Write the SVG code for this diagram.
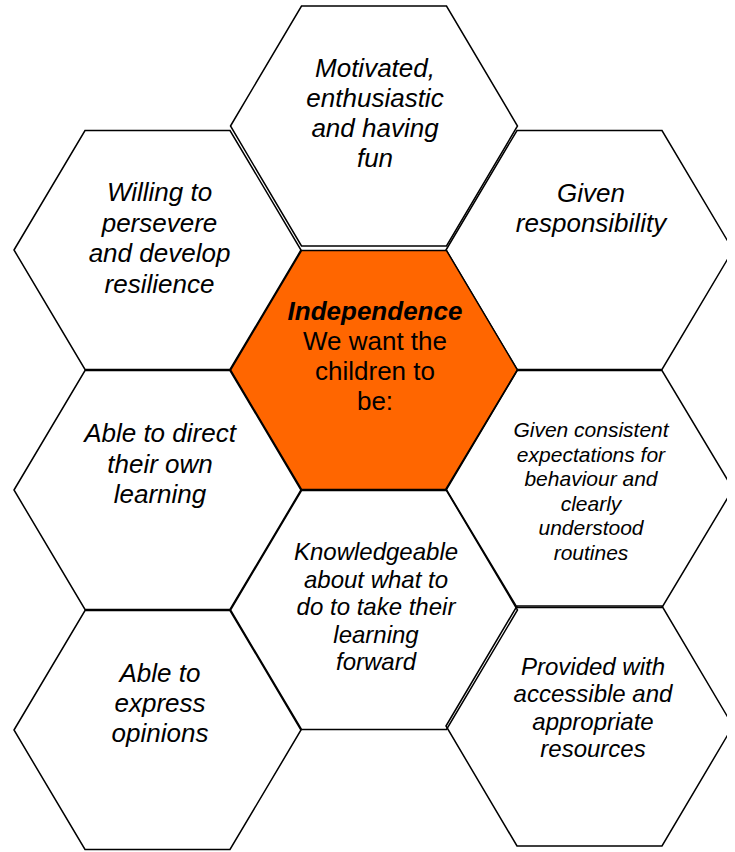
<svg xmlns="http://www.w3.org/2000/svg" width="735" height="852" viewBox="0 0 735 852">
<style>
.hex{fill:none;stroke:#000;stroke-width:1.5;stroke-linejoin:miter}
.core{fill:#FF6600;stroke:#000;stroke-width:1.5}
.t{font-family:"Liberation Sans",Arial,sans-serif;font-style:italic;font-size:26px;fill:#000;text-anchor:middle}
.s24{font-size:24px}
.s21{font-size:21px}
.c{font-family:"Liberation Sans",Arial,sans-serif;font-size:26px;fill:#000;text-anchor:middle}
.b{font-weight:bold;font-style:italic}
</style>
<defs><clipPath id="clip"><rect x="0" y="0" width="727" height="852"/></clipPath></defs>
<rect width="735" height="852" fill="#fff"/>
<g clip-path="url(#clip)">
<g id="motivated">
<polygon class="hex" points="230.5,126 301.5,6 446.5,6 517.5,126 446.5,246 301.5,246"/>
<text class="t" x="375" y="77">Motivated,</text>
<text class="t" x="375" y="107">enthusiastic</text>
<text class="t" x="375" y="137">and having</text>
<text class="t" x="375" y="167">fun</text>
</g>
<g id="willing">
<polygon class="hex" points="14,250 85,130.5 230,130.5 301,250 230,369.5 85,369.5"/>
<text class="t" x="159.5" y="201">Willing to</text>
<text class="t" x="159.5" y="231.5">persevere</text>
<text class="t" x="159.5" y="262">and develop</text>
<text class="t" x="159.5" y="292.5">resilience</text>
</g>
<g id="responsibility">
<polygon class="hex" points="446,250 517,130.5 662,130.5 733,250 662,369.5 517,369.5"/>
<text class="t" x="591" y="202">Given</text>
<text class="t" x="591" y="232">responsibility</text>
</g>
<g id="independence">
<polygon class="core" points="230.5,370 301.5,250.5 446.5,250.5 517.5,370 446.5,489.5 301.5,489.5"/>
<text class="c b" x="375" y="320">Independence</text>
<text class="c" x="375" y="350">We want the</text>
<text class="c" x="375" y="380">children to</text>
<text class="c" x="375" y="410">be:</text>
</g>
<g id="direct">
<polygon class="hex" points="14,490 85,370.5 230,370.5 301,490 230,609.5 85,609.5"/>
<text class="t" x="160" y="442">Able to direct</text>
<text class="t" x="160" y="472.5">their own</text>
<text class="t" x="160" y="503">learning</text>
</g>
<g id="consistent">
<polygon class="hex" points="446,489 517,370.5 662,370.5 733,489 662,607.5 517,607.5"/>
<text class="t s21" x="591" y="437">Given consistent</text>
<text class="t s21" x="591" y="461.5">expectations for</text>
<text class="t s21" x="591" y="486">behaviour and</text>
<text class="t s21" x="591" y="510.5">clearly</text>
<text class="t s21" x="591" y="535">understood</text>
<text class="t s21" x="591" y="559.5">routines</text>
</g>
<g id="knowledgeable">
<polygon class="hex" points="230.5,610 301.5,490.5 446.5,490.5 517.5,610 446.5,729.5 301.5,729.5"/>
<text class="t s24" x="376" y="560">Knowledgeable</text>
<text class="t s24" x="376" y="587.5">about what to</text>
<text class="t s24" x="376" y="615">do to take their</text>
<text class="t s24" x="376" y="642.5">learning</text>
<text class="t s24" x="376" y="670">forward</text>
</g>
<g id="express">
<polygon class="hex" points="14,730 85,610.5 230,610.5 301,730 230,849.5 85,849.5"/>
<text class="t" x="160" y="682">Able to</text>
<text class="t" x="160" y="712">express</text>
<text class="t" x="160" y="742">opinions</text>
</g>
<g id="provided">
<polygon class="hex" points="446,726 517,606 662,606 733,726 662,846 517,846"/>
<text class="t s24" x="593" y="674.5">Provided with</text>
<text class="t s24" x="593" y="702">accessible and</text>
<text class="t s24" x="593" y="729.5">appropriate</text>
<text class="t s24" x="593" y="757">resources</text>
</g>
</g>
<g id="connectors"/>
</svg>
